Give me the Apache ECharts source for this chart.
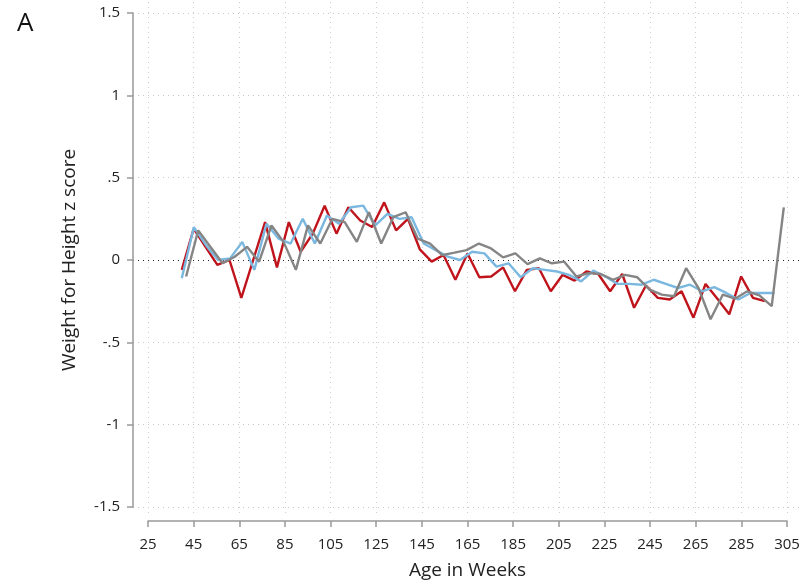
<!DOCTYPE html>
<html>
<head>
<meta charset="utf-8">
<script src="https://cdn.jsdelivr.net/npm/echarts@6/dist/echarts.min.js"></script>
<style>
html,body{margin:0;padding:0;background:#fff;}
#chart{width:807px;height:587px;}
</style>
</head>
<body>
<div id="chart"></div>
<script>
// Age in weeks for each series
const redWeeks = [39.8,45.0,50.2,55.4,60.7,65.9,71.1,76.3,81.5,86.7,91.9,97.2,102.4,107.6,112.8,118.0,123.2,128.5,133.7,138.9,144.1,149.3,154.5,159.7,165.0,170.2,175.4,180.6,185.8,191.0,196.3,201.5,206.7,211.9,217.1,222.3,227.5,232.8,238.0,243.2,248.4,253.6,258.8,264.0,269.3,274.5,279.7,284.9,290.1,295.3];
const blueWeeks = [39.8,45.1,50.4,55.7,61.0,66.3,71.6,76.9,82.2,87.5,92.8,98.1,103.4,108.7,114.0,119.3,124.6,129.9,135.2,140.5,145.8,151.1,156.4,161.7,167.0,172.4,177.7,183.0,188.3,193.6,198.9,204.2,209.5,214.8,220.1,225.4,230.7,236.0,241.3,246.6,251.9,257.2,262.5,267.8,273.1,278.4,283.7,289.0,294.3,299.6];
const grayWeeks = [41.7,47.0,52.3,57.7,63.0,68.4,73.7,79.1,84.4,89.8,95.1,100.5,105.8,111.2,116.5,121.8,127.2,132.5,137.9,143.2,148.6,153.9,159.3,164.6,170.0,175.3,180.6,186.0,191.3,196.7,202.0,207.4,212.7,218.1,223.4,228.8,234.1,239.4,244.8,250.1,255.5,260.8,266.2,271.5,276.9,282.2,287.6,292.9,298.3,303.6];

// Weight-for-height z scores
const redValues = [-0.06,0.19,0.08,-0.03,0.0,-0.23,0.0,0.23,-0.045,0.23,0.05,0.16,0.33,0.16,0.32,0.24,0.20,0.35,0.18,0.25,0.065,-0.01,0.03,-0.12,0.04,-0.105,-0.10,-0.045,-0.19,-0.06,-0.05,-0.19,-0.09,-0.125,-0.07,-0.085,-0.19,-0.085,-0.29,-0.155,-0.23,-0.24,-0.19,-0.35,-0.145,-0.235,-0.33,-0.10,-0.23,-0.25];
const blueValues = [-0.11,0.20,0.09,0.0,0.01,0.11,-0.06,0.22,0.13,0.10,0.25,0.10,0.27,0.22,0.32,0.33,0.21,0.28,0.25,0.26,0.10,0.06,0.02,0.0,0.05,0.04,-0.04,-0.02,-0.105,-0.05,-0.06,-0.07,-0.09,-0.13,-0.065,-0.10,-0.145,-0.145,-0.15,-0.12,-0.145,-0.17,-0.15,-0.19,-0.165,-0.20,-0.24,-0.20,-0.20,-0.20];
const grayValues = [-0.10,0.18,0.08,-0.02,0.02,0.08,-0.01,0.21,0.11,-0.06,0.21,0.10,0.25,0.23,0.11,0.29,0.10,0.26,0.29,0.13,0.10,0.03,0.045,0.06,0.10,0.07,0.016,0.04,-0.025,0.01,-0.02,-0.01,-0.10,-0.08,-0.085,-0.12,-0.09,-0.105,-0.18,-0.21,-0.22,-0.05,-0.17,-0.36,-0.21,-0.235,-0.19,-0.215,-0.28,0.32];

const xTicks = {min:25, max:305, interval:20};
const yTickLabels = {'1.5':'1.5','1':'1','0.5':'.5','0':'0','-0.5':'-.5','-1':'-1','-1.5':'-1.5'};

function pairs(xs, vals){ return vals.map((v,i)=>[xs[i], v]); }

const FONT = '"Open Sans", "Noto Sans", sans-serif';
const chart = echarts.init(document.getElementById('chart'), null, {renderer:'canvas'});
const gridColors = ['#c8c8c8','#c8c8c8','#c8c8c8','#222','#c8c8c8','#c8c8c8','#c8c8c8'];

chart.setOption({
  animation:false,
  backgroundColor:'#fff',
  title:{text:'A', left:12, top:6, textStyle:{fontFamily:FONT, fontSize:26, fontWeight:'normal', color:'#111'}},
  grid:[
    {left:133, right:7, top:13, bottom:80},
    {left:148, right:20, top:2, bottom:73}
  ],
  xAxis:[
    {gridIndex:0, type:'value', min:0, max:1, show:false},
    {gridIndex:1, type:'value', min:xTicks.min, max:xTicks.max, interval:xTicks.interval,
     offset:7, position:'bottom',
     name:'Age in Weeks', nameLocation:'middle', nameGap:40,
     nameTextStyle:{fontFamily:FONT, fontSize:19, color:'#222'},
     axisLine:{show:true, onZero:false, lineStyle:{color:'#999', width:1.5}},
     axisTick:{show:true, length:6, lineStyle:{color:'#999', width:1.5}},
     axisLabel:{margin:16, fontFamily:FONT, fontSize:15, color:'#222'},
     splitLine:{show:true, lineStyle:{color:'#cfcfcf', type:[1,4], width:1}}
    }
  ],
  yAxis:[
    {gridIndex:0, type:'value', min:-1.5, max:1.5, interval:0.5,
     name:'Weight for Height z score', nameLocation:'middle', nameGap:54,
     nameTextStyle:{fontFamily:FONT, fontSize:19, color:'#222'},
     axisLine:{show:true, onZero:false, lineStyle:{color:'#999', width:1.5}},
     axisTick:{show:true, length:6, lineStyle:{color:'#999', width:1.5}},
     axisLabel:{margin:13, fontFamily:FONT, fontSize:15, color:'#222',
       formatter:(v)=>yTickLabels[String(v)] ?? String(v)},
     splitLine:{show:true, lineStyle:{color:gridColors, type:[1,4], width:1}}
    },
    {gridIndex:1, type:'value', min:-1.5425, max:1.5668, show:false}
  ],
  series:[
    {type:'line', xAxisIndex:1, yAxisIndex:1, data:pairs(redWeeks, redValues), showSymbol:false, symbol:'none',
     lineStyle:{color:'#c0141c', width:2.4}, z:3},
    {type:'line', xAxisIndex:1, yAxisIndex:1, data:pairs(blueWeeks, blueValues), showSymbol:false, symbol:'none',
     lineStyle:{color:'#7ab8e0', width:2.4}, z:4},
    {type:'line', xAxisIndex:1, yAxisIndex:1, data:pairs(grayWeeks, grayValues), showSymbol:false, symbol:'none',
     lineStyle:{color:'#858585', width:2.4}, z:5}
  ]
});
</script>
</body>
</html>
